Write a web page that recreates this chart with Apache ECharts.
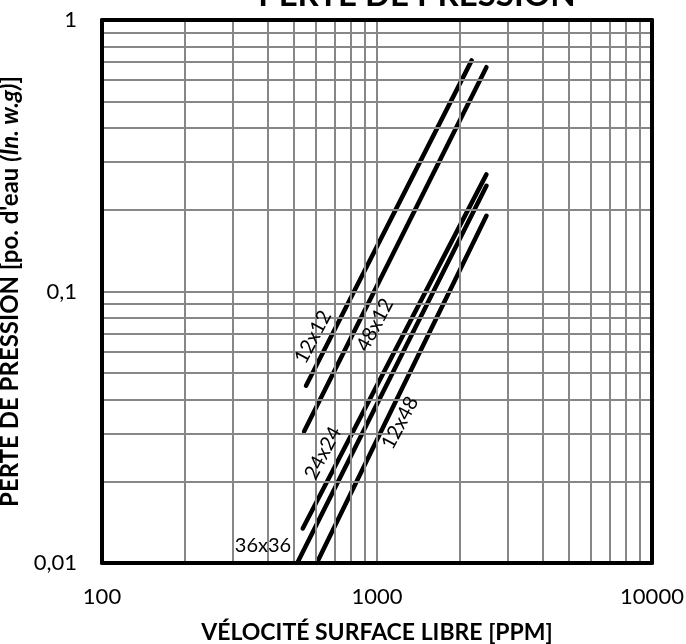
<!DOCTYPE html>
<html lang="fr">
<head>
<meta charset="UTF-8">
<title>Perte de pression</title>
<script src="https://cdn.jsdelivr.net/npm/echarts@6/dist/echarts.min.js"></script>
<style>
  html, body { margin: 0; padding: 0; background: #fff; }
  #chart { width: 686px; height: 644px; }
</style>
</head>
<body>
<div id="chart"></div>
<script>
// données (vitesse PPM, perte po. d'eau)
var seriesNames = ['12x12', '48x12', '24x24', '36x36', '12x48'];
var line12x12 = [[552, 0.045], [2210, 0.71]];
var line48x12 = [[543, 0.0305], [2500, 0.67]];
var line24x24 = [[537, 0.0134], [2500, 0.27]];
var line36x36 = [[513, 0.01], [2500, 0.245]];
var line12x48 = [[604, 0.01], [2500, 0.19]];
// position des étiquettes (coordonnées du graphique)
var labelAt = [[585, 0.068], [984, 0.0753], [636, 0.0254], [385, 0.0116], [1213, 0.0328]];
var labelRot = [62, 62, 62, 0, 62];

// quadrillage log
var xGrid = [200, 300, 400, 500, 600, 700, 800, 900, 1000, 2000, 3000, 4000, 5000, 6000, 7000, 8000, 9000];
var yGrid = [0.02, 0.03, 0.04, 0.05, 0.06, 0.07, 0.08, 0.09, 0.1, 0.2, 0.3, 0.4, 0.5, 0.6, 0.7, 0.8, 0.9];
var xTickValues = [100, 1000, 10000];
var xTickLabels = ['100', '1000', '10000'];
var yTickValues = [0.01, 0.1, 1];
var yTickLabels = ['0,01', '0,1', '1'];

var FONT = 'Lato';
var chart = echarts.init(document.getElementById('chart'));
var lines = [line12x12, line48x12, line24x24, line36x36, line12x48];

function pickLabel(v, values, labels) {
  for (var k = 0; k < values.length; k++) {
    if (Math.abs(Math.log10(v) - Math.log10(values[k])) < 1e-6) return labels[k];
  }
  return '';
}

var series = [{
  name: 'grille',
  type: 'line',
  data: [],
  silent: true,
  z: 1,
  markLine: {
    silent: true,
    symbol: ['none', 'none'],
    label: { show: false },
    lineStyle: { color: '#878787', width: 2, type: 'solid' },
    data: xGrid.map(function (v) { return { xAxis: v }; })
      .concat(yGrid.map(function (v) { return { yAxis: v }; }))
  }
}];

for (var i = 0; i < lines.length; i++) {
  series.push({
    name: seriesNames[i],
    type: 'line',
    data: lines[i],
    showSymbol: false,
    z: 4,
    lineStyle: { color: '#000', width: 4.5, cap: 'round' },
    markPoint: {
      symbol: 'circle',
      symbolSize: 0,
      data: [{
        coord: labelAt[i],
        label: {
          show: true,
          position: 'inside',
          formatter: seriesNames[i],
          rotate: labelRot[i],
          color: '#000',
          fontFamily: FONT,
          fontSize: 20
        }
      }]
    }
  });
}

var option = {
  animation: false,
  backgroundColor: '#fff',
  grid: { left: 102, right: 34, top: 20, bottom: 81, containLabel: false, outerBoundsMode: 'none' },
  graphic: [{
    type: 'text',
    x: 417,
    y: -5,
    style: {
      text: 'PERTE DE PRESSION',
      fontFamily: FONT,
      fontWeight: 'bold',
      fontSize: 33,
      fill: '#000',
      align: 'center',
      verticalAlign: 'middle'
    }
  }],
  xAxis: [{
    type: 'log',
    logBase: 10,
    min: 100,
    max: 10000,
    z: 5,
    name: 'VÉLOCITÉ SURFACE LIBRE [PPM]',
    nameLocation: 'middle',
    nameGap: 58,
    nameTextStyle: { fontFamily: FONT, fontWeight: 'bold', fontSize: 23, color: '#000' },
    axisLine: { show: true, lineStyle: { color: '#000', width: 4 } },
    axisTick: { show: false },
    splitLine: { show: false },
    axisLabel: {
      margin: 23,
      fontFamily: FONT,
      fontSize: 22,
      color: '#000',
      formatter: function (v) { return pickLabel(v, xTickValues, xTickLabels); }
    }
  }, {
    type: 'log',
    logBase: 10,
    min: 100,
    max: 10000,
    position: 'top',
    z: 5,
    axisLine: { show: true, lineStyle: { color: '#000', width: 4 } },
    axisTick: { show: false },
    axisLabel: { show: false },
    splitLine: { show: false }
  }],
  yAxis: [{
    type: 'log',
    logBase: 10,
    min: 0.01,
    max: 1,
    z: 5,
    name: '{b|PERTE DE PRESSION [po. d\'eau }{i|(In. w.g)}{b|]}',
    nameLocation: 'middle',
    nameGap: 80,
    nameTextStyle: {
      rich: {
        b: { fontFamily: FONT, fontWeight: 'bold', fontSize: 24, color: '#000' },
        i: { fontFamily: FONT, fontWeight: 'bold', fontStyle: 'italic', fontSize: 24, color: '#000' }
      }
    },
    axisLine: { show: true, lineStyle: { color: '#000', width: 4 } },
    axisTick: { show: false },
    splitLine: { show: false },
    axisLabel: {
      margin: 25,
      fontFamily: FONT,
      fontSize: 22,
      color: '#000',
      formatter: function (v) { return pickLabel(v, yTickValues, yTickLabels); }
    }
  }, {
    type: 'log',
    logBase: 10,
    min: 0.01,
    max: 1,
    position: 'right',
    z: 5,
    axisLine: { show: true, lineStyle: { color: '#000', width: 4 } },
    axisTick: { show: false },
    axisLabel: { show: false },
    splitLine: { show: false }
  }],
  series: series
};
chart.setOption(option);
</script>
</body>
</html>
